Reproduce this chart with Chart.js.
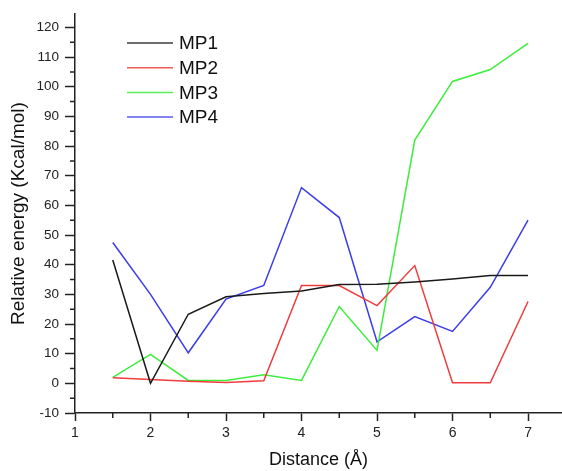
<!DOCTYPE html>
<html>
<head>
<meta charset="utf-8">
<script src="https://cdn.jsdelivr.net/npm/chart.js@4.4.1/dist/chart.umd.min.js"></script>
<style>
  html, body { margin: 0; padding: 0; background: #fff; }
  #wrap { width: 562px; height: 471px; }
</style>
</head>
<body>
<div id="wrap"><canvas id="chart"></canvas></div>
<script>
// distances (Å)
const distances = [1.5, 2, 2.5, 3, 3.5, 4, 4.5, 5, 5.5, 6, 6.5, 7];

// relative energies (Kcal/mol)
const mp1 = [41.6, 0, 23.3, 29.2, 30.3, 31.1, 33.3, 33.4, 34.2, 35.2, 36.4, 36.4];
const mp2 = [1.9, 1.3, 0.7, 0.3, 0.9, 33.0, 33.0, 26.2, 39.7, 0.2, 0.2, 27.6];
const mp3 = [2.0, 9.8, 1.0, 1.0, 2.9, 1.0, 25.9, 11.1, 82.0, 101.8, 105.8, 114.6];
const mp4 = [47.5, 30.0, 10.3, 28.4, 33.0, 66.0, 55.9, 14.0, 22.5, 17.5, 32.4, 55.0];

const seriesLabels = ['MP1', 'MP2', 'MP3', 'MP4'];
const seriesColors = ['#1a1a1a', '#f03c3c', '#3ced3c', '#3c3cec'];

// axis ticks
const xTicks = [1, 2, 3, 4, 5, 6, 7];
const xMinorTicks = [1.5, 2.5, 3.5, 4.5, 5.5, 6.5];
const yTicks = [-10, 0, 10, 20, 30, 40, 50, 60, 70, 80, 90, 100, 110, 120];
const yMinorTicks = [-5, 5, 15, 25, 35, 45, 55, 65, 75, 85, 95, 105, 115];

const toPoints = (ys) => ys.map((y, i) => ({ x: distances[i], y: y }));

const minorTicks = {
  id: 'minorTicks',
  afterDraw(chart) {
    const ctx = chart.ctx;
    const xs = chart.scales.x;
    const ys = chart.scales.y;
    ctx.save();
    ctx.strokeStyle = '#222';
    ctx.lineWidth = 1.5;
    ctx.beginPath();
    xMinorTicks.forEach(v => {
      const px = xs.getPixelForValue(v);
      ctx.moveTo(px, xs.top);
      ctx.lineTo(px, xs.top + 5);
    });
    yMinorTicks.forEach(v => {
      const py = ys.getPixelForValue(v);
      ctx.moveTo(ys.right, py);
      ctx.lineTo(ys.right - 5, py);
    });
    ctx.stroke();
    ctx.restore();
  }
};

// legend drawn inside the plot, upper left
const insideLegend = {
  id: 'insideLegend',
  afterDraw(chart) {
    const ctx = chart.ctx;
    ctx.save();
    ctx.font = '19px "Liberation Sans", Arial, sans-serif';
    ctx.textBaseline = 'middle';
    chart.data.datasets.forEach((ds, i) => {
      const y = 43 + i * 24.7;
      ctx.strokeStyle = ds.borderColor;
      ctx.globalAlpha = 0.85;
      ctx.lineWidth = 1.5;
      ctx.beginPath();
      ctx.moveTo(127, y);
      ctx.lineTo(173, y);
      ctx.stroke();
      ctx.globalAlpha = 1;
      ctx.fillStyle = '#111';
      ctx.fillText(ds.label, 179, y + 1);
    });
    ctx.restore();
  }
};

const datasets = [mp1, mp2, mp3, mp4].map((values, i) => ({
  label: seriesLabels[i],
  data: toPoints(values),
  borderColor: seriesColors[i],
  borderWidth: 1.5,
  pointRadius: 0,
  tension: 0,
  fill: false
}));

new Chart(document.getElementById('chart'), {
  type: 'line',
  data: { datasets: datasets },
  options: {
    responsive: true,
    maintainAspectRatio: false,
    animation: false,
    layout: { padding: { top: 12, right: 0, left: 0, bottom: 0 } },
    plugins: {
      legend: { display: false },
      tooltip: { enabled: false }
    },
    scales: {
      x: {
        type: 'linear',
        min: 1,
        max: 7.45,
        afterBuildTicks: (scale) => { scale.ticks = xTicks.map(v => ({ value: v })); },
        afterFit: (scale) => { scale.height = 58; },
        grid: { display: true, drawOnChartArea: false, drawTicks: true, tickLength: 8, tickWidth: 1.5, tickColor: '#222' },
        border: { display: true, color: '#222', width: 1.5 },
        ticks: {
          padding: 4,
          maxRotation: 0,
          color: '#222',
          font: { family: '"Liberation Sans", Arial, sans-serif', size: 14 }
        },
        title: {
          display: true,
          text: 'Distance (Å)',
          color: '#111',
          padding: { top: 0, bottom: 0 },
          font: { family: '"Liberation Sans", Arial, sans-serif', size: 18 }
        }
      },
      y: {
        type: 'linear',
        min: -10,
        max: 124.5,
        afterBuildTicks: (scale) => { scale.ticks = yTicks.map(v => ({ value: v })); },
        afterFit: (scale) => { scale.width = 75; },
        grid: { display: true, drawOnChartArea: false, drawTicks: true, tickLength: 10, tickWidth: 1.5, tickColor: '#222' },
        border: { display: true, color: '#222', width: 1.5 },
        ticks: {
          padding: 6,
          color: '#222',
          font: { family: '"Liberation Sans", Arial, sans-serif', size: 13.5 }
        },
        title: {
          display: true,
          text: 'Relative energy (Kcal/mol)',
          color: '#111',
          padding: { top: 7, bottom: 0 },
          font: { family: '"Liberation Sans", Arial, sans-serif', size: 19 }
        }
      }
    }
  },
  plugins: [minorTicks, insideLegend]
});
</script>
</body>
</html>
